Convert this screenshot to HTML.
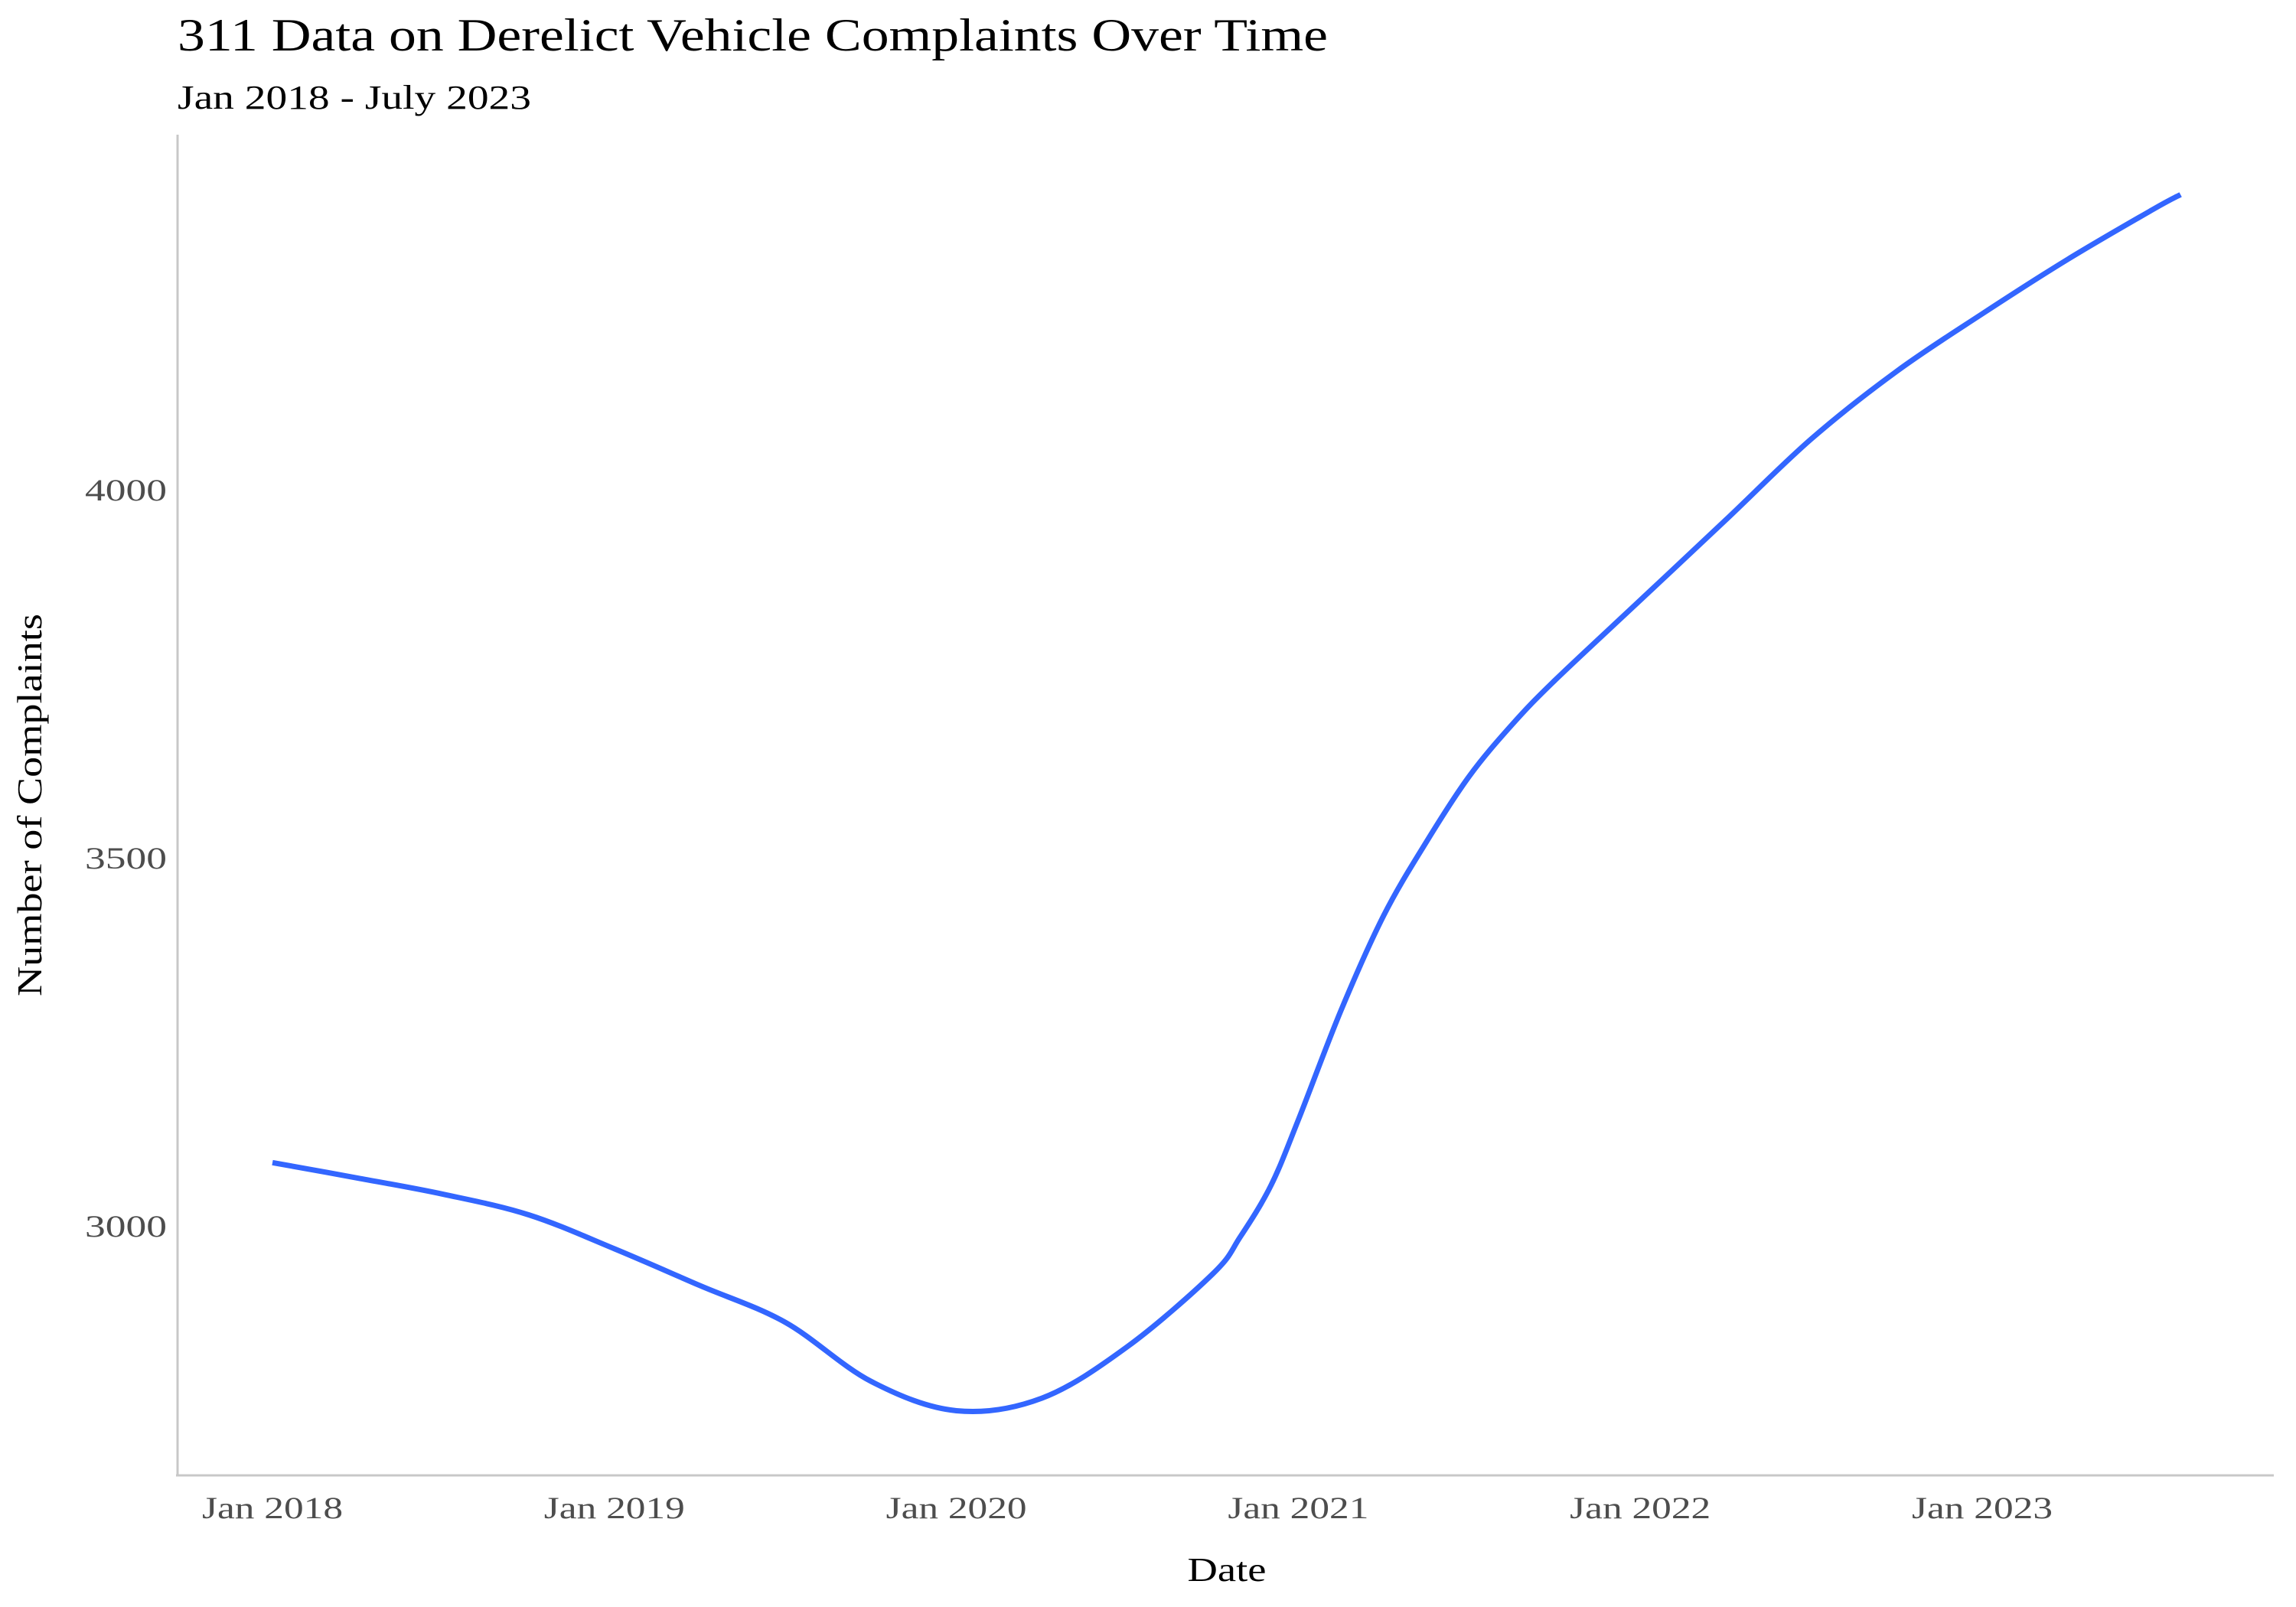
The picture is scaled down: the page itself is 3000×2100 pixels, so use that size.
<!DOCTYPE html>
<html><head><meta charset="utf-8">
<style>
html,body{margin:0;padding:0;background:#fff;}
svg{display:block;}
text{font-family:"Liberation Serif",serif;}
</style></head>
<body>
<svg id="chart" width="3000" height="2100" viewBox="0 0 3000 2100" xmlns="http://www.w3.org/2000/svg">
<text x="232" y="66" font-size="60" fill="#000" textLength="1503" lengthAdjust="spacingAndGlyphs">311 Data on Derelict Vehicle Complaints Over Time</text>
<text x="232" y="142" font-size="44" fill="#000" textLength="462" lengthAdjust="spacingAndGlyphs">Jan 2018 - July 2023</text>
<line x1="232" y1="176" x2="232" y2="1929" stroke="#c8c8c8" stroke-width="3"/>
<line x1="230" y1="1928" x2="2971" y2="1928" stroke="#c8c8c8" stroke-width="3"/>
<g id="yticks"></g>
<g id="xticks"></g>
<path id="series" fill="none" stroke="#3366FF" stroke-width="7" stroke-linejoin="round" stroke-linecap="butt"/>
<text x="1603" y="2066" font-size="44" text-anchor="middle" fill="#000" textLength="103" lengthAdjust="spacingAndGlyphs">Date</text>
<text x="0" y="0" font-size="46" text-anchor="middle" fill="#000" textLength="500" lengthAdjust="spacingAndGlyphs" transform="translate(54,1052) rotate(-90)">Number of Complaints</text>
</svg>
<script>
const dates = [2018.0,2018.25,2018.5,2018.75,2019.0,2019.25,2019.5,2019.75,2020.0,2020.25,2020.5,2020.75,2020.83,2020.92,2021.0,2021.125,2021.25,2021.375,2021.5,2021.625,2021.75,2022.0,2022.25,2022.5,2022.75,2023.0,2023.25,2023.5,2023.58];
const complaints = [3087,3066,3044,3016,2970,2920,2870,2790,2750,2767,2837,2936,2986,3056,3145,3294,3423,3523,3612,3682,3742,3851,3960,4070,4162,4240,4314,4382,4402];
const yTickValues = [3000,3500,4000];
const xTickYears = [2018,2019,2020,2021,2022,2023];
const xTickLabels = ["Jan 2018","Jan 2019","Jan 2020","Jan 2021","Jan 2022","Jan 2023"];

const NS="http://www.w3.org/2000/svg";
function xScale(t){return 356+(t-2018)*446.8;}
function yScale(v){return 1603-(v-3000)*(481/500);}

const yg=document.getElementById('yticks');
yTickValues.forEach(v=>{
  const t=document.createElementNS(NS,'text');
  
  
  t.setAttribute('x',218);t.setAttribute('y',yScale(v)+13);
  t.setAttribute('font-size','40');t.setAttribute('text-anchor','end');t.setAttribute('fill','#4d4d4d');
  t.setAttribute('textLength','107');t.setAttribute('lengthAdjust','spacingAndGlyphs');
  t.textContent=v;yg.appendChild(t);
});
const xg=document.getElementById('xticks');
xTickYears.forEach((yr,i)=>{
  const t=document.createElementNS(NS,'text');
  
  
  t.setAttribute('x',xScale(yr));t.setAttribute('y',1984);
  t.setAttribute('font-size','40');t.setAttribute('text-anchor','middle');t.setAttribute('fill','#4d4d4d');
  t.setAttribute('textLength','184');t.setAttribute('lengthAdjust','spacingAndGlyphs');
  t.textContent=xTickLabels[i];xg.appendChild(t);
});
const pts=dates.map((d,i)=>[xScale(d),yScale(complaints[i])]);
let d='M'+pts[0][0]+','+pts[0][1];
for(let i=0;i<pts.length-1;i++){
  const p0=pts[Math.max(0,i-1)],p1=pts[i],p2=pts[i+1],p3=pts[Math.min(pts.length-1,i+2)];
  const c1=[p1[0]+(p2[0]-p0[0])/6,p1[1]+(p2[1]-p0[1])/6];
  const c2=[p2[0]-(p3[0]-p1[0])/6,p2[1]-(p3[1]-p1[1])/6];
  d+=' C'+c1[0]+','+c1[1]+' '+c2[0]+','+c2[1]+' '+p2[0]+','+p2[1];
}
document.getElementById('series').setAttribute('d',d);
</script>
</body></html>
